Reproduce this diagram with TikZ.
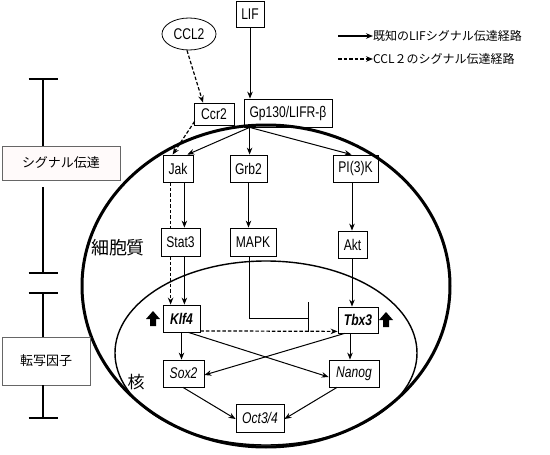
\documentclass[tikz,border=0pt]{standalone}
\usepackage{fontspec}
\setmainfont{Liberation Sans}
\newfontfamily\cond[FakeStretch=0.78]{Liberation Sans}
\newfontfamily\jp{Noto Sans CJK JP}
\usetikzlibrary{arrows.meta,calc,shapes.geometric}
\begin{document}
\begin{tikzpicture}[x=1pt,y=-1pt,
  box/.style={draw, line width=0.8pt, inner sep=0pt, font=\cond\fontsize{15.5}{17}\selectfont},
  gene/.style={box, font=\cond\fontsize{15.5}{17}\selectfont\itshape},
  kgene/.style={box, font=\cond\fontsize{15.5}{17}\selectfont\bfseries\itshape},
  arr/.style={-{Stealth[length=7pt,width=5.5pt]}, line width=1pt},
  darr/.style={arr, line width=1.2pt, dash pattern=on 3.5pt off 2pt},
  dline/.style={line width=1.2pt, dash pattern=on 3.5pt off 2pt},
  tbar/.style={line width=1.6pt},
  vline/.style={line width=1.1pt},
  jpbox/.style={draw=black!60, line width=0.7pt, inner sep=0pt, font=\jp\fontsize{13}{15}\selectfont},
  jplab/.style={inner sep=0pt, font=\jp\fontsize{12}{14}\selectfont},
  uparr/.style={fill=black, draw=none}
]
\useasboundingbox (0,0) rectangle (550,455);

% cell and nucleus
\draw[line width=3pt] (266,286) ellipse [x radius=184pt, y radius=161pt];
\draw[line width=1.4pt] (266,353) ellipse [x radius=151pt, y radius=92pt];

% labels in cell
\node[inner sep=0pt, font=\jp\fontsize{18}{20}\selectfont] (cyto) at (118,248) {細胞質};
\node[inner sep=0pt, font=\jp\fontsize{17}{19}\selectfont] (nuc) at (136,382) {核};

% top nodes
\node[box, minimum width=28pt, minimum height=26pt] (lif) at (250,14) {LIF};
\node[draw, ellipse, line width=0.8pt, minimum width=54pt, minimum height=32pt, inner sep=0pt, font=\cond\fontsize{15.5}{17}\selectfont] (ccl2) at (189,34) {CCL2};
\node[box, minimum width=40pt, minimum height=22pt] (ccr2) at (214,114) {Ccr2};
\node[box, minimum width=88pt, minimum height=28pt] (gp) at (288,113) {Gp130/LIFR-β};

% cytoplasm nodes
\node[box, minimum width=30pt, minimum height=27pt] (jak) at (178,168.5) {Jak};
\node[box, minimum width=37pt, minimum height=27pt] (grb2) at (248.5,168.5) {Grb2};
\node[box, minimum width=45pt, minimum height=27pt] (pi3k) at (355.5,168.5) {PI(3)K};
\node[box, minimum width=39pt, minimum height=28pt] (stat3) at (180.5,242) {Stat3};
\node[box, minimum width=46pt, minimum height=28pt] (mapk) at (253,242) {MAPK};
\node[box, minimum width=29pt, minimum height=27pt] (akt) at (352.5,244.5) {Akt};

% nucleus nodes
\node[kgene, minimum width=37pt, minimum height=27pt] (klf4) at (181.5,318.5) {Klf4};
\node[kgene, minimum width=40pt, minimum height=26pt] (tbx3) at (358,320) {Tbx3};
\node[gene, minimum width=41pt, minimum height=27pt] (sox2) at (183.5,373.5) {Sox2};
\node[gene, minimum width=50pt, minimum height=27pt] (nanog) at (354,373.5) {Nanog};
\node[gene, minimum width=48pt, minimum height=28pt] (oct) at (260,418) {Oct3/4};

% up arrows
\fill[uparr] (146,319) -- (153,311) -- (160,319) -- (156,319) -- (156,326) -- (150,326) -- (150,319) -- cycle;
\fill[uparr] (379,320) -- (386,312) -- (393,320) -- (389,320) -- (389,327) -- (383,327) -- (383,320) -- cycle;

% connectors
\coordinate (gpo) at ([xshift=6pt]gp.south west);
\draw[arr] (lif.south) -- (lif.south |- gp.north);
\draw[darr] ([xshift=-2pt]ccl2.south) -- ([xshift=-11pt]ccr2.north);
\draw[darr] ([xshift=1pt,yshift=4pt]ccr2.south west) -- ([xshift=10pt]jak.north west);
\draw[arr] (gpo) -- ([xshift=-6pt]jak.north east);
\draw[arr] (gpo) -- (gpo |- grb2.north);
\draw[arr] (gpo) -- ([xshift=-4pt]pi3k.north);
\draw[dline] ([xshift=8pt]jak.south west) -- ([xshift=8pt]jak.south west |- stat3.north);
\draw[darr] ([xshift=8pt]jak.south west |- stat3.south) -- ([xshift=8pt]jak.south west |- klf4.north);
\draw[arr] ([xshift=-9pt]jak.south east) -- ([xshift=-9pt]jak.south east |- stat3.north);
\draw[arr] ([xshift=-16pt]stat3.south east) -- ([xshift=-16pt]stat3.south east |- klf4.north);
\draw[arr] (grb2.south) -- (grb2.south |- mapk.north);
\draw[arr] ([xshift=-3.5pt]pi3k.south) -- ([xshift=-3.5pt]pi3k.south |- akt.north);
\draw[arr] ([xshift=-0.5pt]akt.south) -- ([xshift=-0.5pt]akt.south |- tbx3.north);
\coordinate (inh) at (308,318);
\draw[line width=1pt] ([xshift=-4pt]mapk.south) |- (inh);
\draw[line width=1pt] ([yshift=16pt]inh) -- ([yshift=-14pt]inh);
\draw[darr] ([yshift=1.5pt]klf4.south east) -- ([yshift=2pt]tbx3.south west);
\draw[arr] (klf4.south) -- (klf4.south |- sox2.north);
\draw[arr] ([xshift=-12pt]klf4.south east) -- ([yshift=-3.5pt]nanog.west);
\draw[arr] ([xshift=-8pt]tbx3.south) -- ([xshift=-8pt]tbx3.south |- nanog.north);
\draw[arr] ([xshift=7pt]tbx3.south west) -- ([yshift=-1.5pt]sox2.east);
\draw[arr] ([xshift=-0.5pt]sox2.south) -- ([yshift=-1pt]oct.west);
\draw[arr] ([xshift=-17pt]nanog.south) -- ([yshift=-1pt]oct.east);

% legend
\node[jplab, anchor=west] (leg1) at (373,36) {既知のLIFシグナル伝達経路};
\node[jplab, anchor=west] (leg2) at (373,59) {CCL２のシグナル伝達経路};
\coordinate (l1) at (338,36);
\coordinate (l2) at (338,59);
\draw[arr, line width=1.6pt] (l1) -- (leg1.west);
\draw[darr, line width=1.6pt] (l2) -- (leg2.west);

% left scale
\node[jpbox, fill=red!2, minimum width=118pt, minimum height=34pt] (sig) at (61,163) {シグナル伝達};
\node[jpbox, fill=white, minimum width=88pt, minimum height=48pt] (tf) at (46,361) {転写因子};
\coordinate (t1) at (43,79);
\coordinate (t2a) at (43,187);
\coordinate (t2) at (43,273);
\coordinate (t3) at (43,293);
\coordinate (t4) at (43,418);
\draw[vline] (t1) -- (t1 |- sig.north);
\draw[vline] (t2a) -- (t2);
\draw[vline] (t3) -- (t3 |- tf.north);
\draw[vline] (t4 |- tf.south) -- (t4);
\foreach \t in {t1,t2,t3,t4}
  \draw[tbar] ([xshift=-14.5pt]\t) -- ([xshift=14.5pt]\t);
\end{tikzpicture}
\end{document}
